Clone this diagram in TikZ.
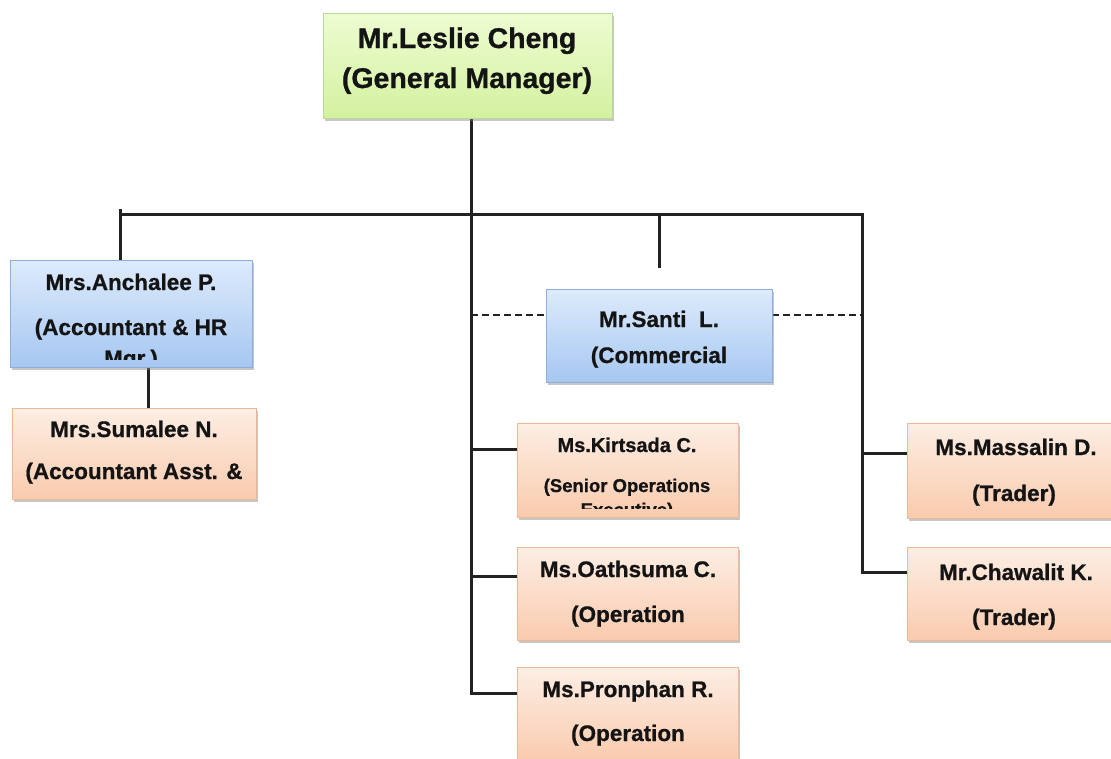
\documentclass[tikz,border=0pt]{standalone}
\usepackage{fontspec}
\setmainfont{Liberation Sans}[BoldFeatures={FakeBold=0.8}]
\usetikzlibrary{calc,shadows}
\pgfdeclarelayer{background}
\pgfsetlayers{background,main}

\definecolor{ink}{HTML}{141414}
\definecolor{wire}{HTML}{222222}
\definecolor{gTop}{HTML}{EEFCD2}
\definecolor{gBot}{HTML}{D3F1A0}
\definecolor{gEdge}{HTML}{BCD79A}
\definecolor{bTop}{HTML}{DDEBFC}
\definecolor{bBot}{HTML}{A6C7F1}
\definecolor{bEdge}{HTML}{8EAEDB}
\definecolor{pTop}{HTML}{FDEEE4}
\definecolor{pBot}{HTML}{F9CBAE}
\definecolor{pEdge}{HTML}{EBB996}

\tikzset{
  box/.style={rectangle, inner sep=0pt, line width=0.8pt,
    drop shadow={shadow xshift=1.5pt, shadow yshift=-3pt, opacity=0.45}},
  greenbox/.style={box, draw=gEdge, top color=gTop, bottom color=gBot},
  bluebox/.style={box, draw=bEdge, top color=bTop, bottom color=bBot},
  peachbox/.style={box, draw=pEdge, top color=pTop, bottom color=pBot},
  txt/.style={anchor=base, inner sep=0pt, text=ink, font=\bfseries\fontsize{22.5}{24}\selectfont},
  bigtxt/.style={txt, font=\bfseries\fontsize{28.5}{30}\selectfont},
  midtxt/.style={txt, font=\bfseries\fontsize{20}{22}\selectfont},
  smalltxt/.style={txt, font=\bfseries\fontsize{18.5}{20}\selectfont},
  conn/.style={draw=wire, line width=3pt, line join=miter},
  dashconn/.style={draw=wire, line width=2pt, dash pattern=on 7pt off 4pt},
}

\begin{document}
\begin{tikzpicture}[x=1pt, y=-1pt]
\useasboundingbox (0,0) rectangle (1111,758);

% boxes
\node[greenbox, minimum width=289pt, minimum height=105pt] (gm)   at (467.5,65.5) {};
\node[bluebox,  minimum width=242pt, minimum height=107pt] (anch) at (131,313.5) {};
\node[peachbox, minimum width=244pt, minimum height=91pt]  (sum)  at (134,453.5) {};
\node[bluebox,  minimum width=226pt, minimum height=93pt]  (san)  at (659,335.5) {};
\node[peachbox, minimum width=221pt, minimum height=94pt]  (kirt) at (627.5,470) {};
\node[peachbox, minimum width=221pt, minimum height=93pt]  (oath) at (627.5,593.5) {};
\node[peachbox, minimum width=221pt, minimum height=94pt]  (pron) at (627.5,714) {};
\node[peachbox, minimum width=214pt, minimum height=95pt]  (mass) at (1014,470.5) {};
\node[peachbox, minimum width=214pt, minimum height=93pt]  (chaw) at (1014,593.5) {};

% junctions of the wiring
\coordinate (trunk) at (471,214);
\coordinate (barL)  at (120,209);
\coordinate (barR)  at (862,214);
\coordinate (santiTick) at (659,268);

% entry points on the left (or right) sides of the boxes
\coordinate (kirtIn) at ($(kirt.north west)!0.28!(kirt.south west)$);
\coordinate (oathIn) at ($(oath.north west)!0.32!(oath.south west)$);
\coordinate (pronIn) at ($(pron.north west)!0.28!(pron.south west)$);
\coordinate (massIn) at ($(mass.north west)!0.32!(mass.south west)$);
\coordinate (chawIn) at ($(chaw.north west)!0.28!(chaw.south west)$);
\coordinate (sanL)   at ($(san.north west)!0.28!(san.south west)$);
\coordinate (sanR)   at ($(san.north east)!0.28!(san.south east)$);

\begin{pgfonlayer}{background}
  % main trunk from the general manager down to the operations staff
  \draw[conn] (gm.south -| trunk) -- (trunk |- pronIn) -- (pronIn);
  % horizontal bar and its drops
  \draw[conn] (barL |- anch.north) -- (barL);
  \draw[conn] (barL |- trunk) -- (barR) -- (barR |- chawIn) -- (chawIn);
  \draw[conn] (san.north |- trunk) -- (santiTick);
  % accounting line
  \draw[conn] ([xshift=17pt]anch.south) -- ([xshift=17pt]anch.south |- sum.north);
  % operations branches
  \draw[conn] (kirtIn -| trunk) -- (kirtIn);
  \draw[conn] (oathIn -| trunk) -- (oathIn);
  % trader branch
  \draw[conn] (massIn -| barR) -- (massIn);
  % dashed link of the commercial manager
  \draw[dashconn] (sanL -| trunk) -- (sanL);
  \draw[dashconn] (sanR) -- (sanR -| barR);
\end{pgfonlayer}

% texts
\node[bigtxt] (gmA) at (467,48) {Mr.Leslie Cheng};
\node[bigtxt] (gmB) at (467,88) {(General Manager)};

\node[txt] (anchA) at (131,290) {Mrs.Anchalee P.};
\node[txt] (anchB) at (131,335) {(Accountant \& HR};
\begin{scope}
  \clip (anch.north west) rectangle (anch.east |- 0,359);
  \node[txt] (anchC) at (131,366) {Mgr.)};
\end{scope}

\node[txt] (sumA) at (134,437) {Mrs.Sumalee N.};
\node[txt] (sumB) at (134,479) {(Accountant Asst. \&};

\node[txt] (sanA) at (659,327) {Mr.Santi~~L.};
\node[txt] (sanB) at (659,363) {(Commercial};

\node[midtxt] (kirtA) at (627,452) {Ms.Kirtsada C.};
\node[smalltxt] (kirtB) at (627,492) {(Senior Operations};
\begin{scope}
  \clip (kirt.north west) rectangle (kirt.east |- 0,508);
  \node[smalltxt] (kirtC) at (627,516) {Executive)};
\end{scope}

\node[txt] (oathA) at (628,577) {Ms.Oathsuma C.};
\node[txt] (oathB) at (628,622) {(Operation};

\node[txt] (pronA) at (628,697) {Ms.Pronphan R.};
\node[txt] (pronB) at (628,741) {(Operation};

\node[txt] (massA) at (1016,455) {Ms.Massalin D.};
\node[txt] (massB) at (1014,501) {(Trader)};

\node[txt] (chawA) at (1016,580) {Mr.Chawalit K.};
\node[txt] (chawB) at (1014,625) {(Trader)};
\end{tikzpicture}
\end{document}
